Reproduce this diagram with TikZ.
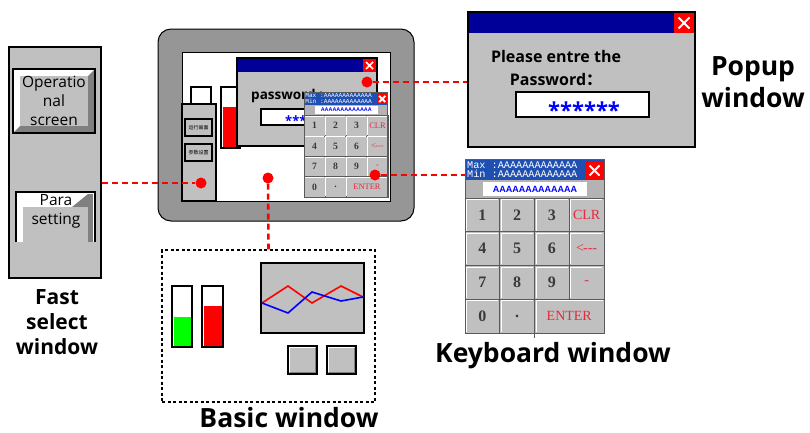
\documentclass[tikz,border=0pt]{standalone}
\usepackage{fontspec}
\setmainfont{Open Sans}
\newfontfamily\cjk{Noto Sans CJK SC}
\newfontfamily\keyfont{Liberation Serif}
\newfontfamily\tinyfont{Liberation Sans}
\newfontfamily\monofont{Liberation Mono}
\usetikzlibrary{positioning}

\definecolor{panelgray}{HTML}{C0C0C0}
\definecolor{bezelgray}{HTML}{969696}
\definecolor{bevdark}{HTML}{808080}
\definecolor{titlenavy}{HTML}{000099}
\definecolor{kbdblue}{HTML}{1F4FB0}
\definecolor{keydark}{HTML}{3A3A3A}
\definecolor{keyred}{HTML}{E8283C}

% raised button: x1 y1 x2 y2 depth
\newcommand{\bevelbtn}[5]{%
  \fill[white] (#1,#2) rectangle (#3,#4);
  \fill[bevdark] (#3,#2) -- (#3,#4) -- (#1,#4) -- ({#1+#5},{#4-#5})
    -- ({#3-#5},{#4-#5}) -- ({#3-#5},{#2+#5}) -- cycle;
  \fill[panelgray] ({#1+#5},{#2+#5}) rectangle ({#3-#5},{#4-#5});
  \draw[line width=1.2pt] (#1,#2) rectangle (#3,#4);}

\begin{document}
\begin{tikzpicture}[x=1pt, y=-1pt,
  panel/.style={draw=black, line width=1.2pt, fill=panelgray, inner sep=0pt},
  link/.style={draw=red, line width=2.6pt, dash pattern=on 6pt off 4pt},
  hotspot/.style={circle, fill=red, inner sep=0pt, minimum size=11pt},
  caption/.style={font=\bfseries\fontsize{26.5}{32}\selectfont, align=center},
  keycap/.style={font=\keyfont\bfseries\fontsize{16}{16}\selectfont, text=keydark},
  keyalert/.style={keycap, font=\keyfont\fontsize{14}{14}\selectfont, text=keyred},
  keypad/.pic={
    \fill[panelgray] (0,0) rectangle (139,174);
    % title bar
    \fill[kbdblue] (0,0) rectangle (139,21);
    \node[anchor=west, inner sep=0pt, text=white, font=\monofont\fontsize{10.2}{10.2}\selectfont]
      (-max) at (2,6) {Max :AAAAAAAAAAAAA};
    \node[anchor=west, inner sep=0pt, text=white, font=\monofont\fontsize{10.2}{10.2}\selectfont]
      (-min) at (2,15) {Min :AAAAAAAAAAAAA};
    \fill[red] (121,3) rectangle (138,20);
    \draw[white, line width=2pt] (124.5,6.5) -- (134.5,16.5) (134.5,6.5) -- (124.5,16.5);
    % input row
    \fill[bevdark!60] (0,21) rectangle (139,39);
    \fill[white] (18,23) rectangle (122,37);
    \node[text=blue, font=\tinyfont\bfseries\fontsize{9}{9}\selectfont]
      (-input) at (70,30) {AAAAAAAAAAAAA};
    % keys
    \foreach \c/\r/\t/\s in {0/0/1/keycap, 1/0/2/keycap, 2/0/3/keycap, 3/0/CLR/keyalert,
                             0/1/4/keycap, 1/1/5/keycap, 2/1/6/keycap, 3/1/{<\kern-1pt---}/keyalert,
                             0/2/7/keycap, 1/2/8/keycap, 2/2/9/keycap, 3/2/-/keyalert,
                             0/3/0/keycap, 1/3/./keycap} {
      \pgfmathsetmacro\kx{\c*34.75}
      \pgfmathsetmacro\ky{39+\r*33.75}
      \draw[fill=panelgray, draw=bevdark!70!black, line width=0.8pt] (\kx,\ky) rectangle ++(34.75,33.75);
      \draw[white, line width=1pt] ({\kx+1.5},{\ky+32.5}) -- ({\kx+1.5},{\ky+1.5}) -- ({\kx+33},{\ky+1.5});
      \node[\s] (-key\c\r) at ({\kx+17.4},{\ky+16.9}) {\t};
    }
    \draw[fill=panelgray, draw=bevdark!70!black, line width=0.8pt] (69.5,140.25) rectangle (139,174);
    \draw[white, line width=1pt] (71,172.5) -- (71,141.75) -- (137.5,141.75);
    \node[keyalert] (-enter) at (104.25,157.1) {ENTER};
    \draw[bevdark!70!black, line width=1pt] (0,0) rectangle (139,174);
  }
]
\useasboundingbox (0,0) rectangle (810,432);

% Fast select window
\node[panel, minimum width=92pt, minimum height=231pt] (fastsel) at (55,162.5) {};
\bevelbtn{13}{69}{95}{133}{7}
\node[align=center, font=\fontsize{15.5}{19}\selectfont] (opbtn) at (54,101) {Operatio\\nal\\screen};
\fill[white] (16,192) rectangle (95,242);
\fill[bevdark] (88,194) rectangle (93,242);
\fill[bevdark] (72,207) -- (88,194) -- (88,207) -- cycle;
\fill[panelgray] (23,207) rectangle (88,242);
\draw[line width=1.2pt] (16,242) -- (16,192) -- (95,192) -- (95,242);
\node[align=center, font=\fontsize{15.5}{19}\selectfont] (parabtn) at (56,211) {Para\\setting};
\node[caption, font=\bfseries\fontsize{21}{25}\selectfont] (fastlbl) at (57,322) {Fast\\select\\window};

% HMI device
\node[draw=black, line width=1pt, fill=bezelgray, rounded corners=13pt,
      minimum width=256pt, minimum height=192pt] (hmi) at (286,125) {};
\node[draw=black, line width=1pt, fill=white, minimum width=208pt, minimum height=149pt] (screen) at (286,126.5) {};
\draw[line width=1.5pt, fill=white] (191,87) rectangle (211,104);
\draw[line width=1.5pt, fill=panelgray] (182,104) rectangle (216,201);
\draw[line width=1.5pt, fill=panelgray] (185,119) rectangle (212,136);
\draw[line width=1.5pt, fill=panelgray] (185,144) rectangle (212,161);
\node[font=\cjk\fontsize{5}{5}\selectfont, inner sep=0pt] (runbtn) at (198.5,127.5) {运行画面};
\node[font=\cjk\fontsize{5}{5}\selectfont, inner sep=0pt] (setbtn) at (198.5,152.5) {参数设置};
\draw[line width=1.5pt, fill=white] (221,87) rectangle (240,148);
\fill[red] (222.5,107) rectangle (238.5,146.5);
% password popup on screen
\draw[line width=1.5pt, fill=panelgray] (237,58) rectangle (377,146);
\fill[titlenavy] (238,59) rectangle (376,72);
\fill[red] (363,59) rectangle (376,72);
\draw[white, line width=1.5pt] (366,62) -- (373,69) (373,62) -- (366,69);
\node[anchor=base west, inner sep=0pt, font=\bfseries\fontsize{13.5}{13.5}\selectfont] (pwtext) at (251,99) {password :};
\draw[line width=1.5pt, fill=white] (261,109) rectangle (345,125);
\node[anchor=base west, inner sep=0pt, text=blue, font=\bfseries\fontsize{13}{13}\selectfont] (pwstars) at (285,125) {***};
\pic[scale=0.604, transform shape] (minikbd) at (304,92) {keypad};

% Popup window
\node[panel, minimum width=227pt, minimum height=135pt] (popup) at (581.5,79.5) {};
\fill[titlenavy] (469,13) rectangle (694,33);
\fill[red] (674,13) rectangle (694,33);
\draw[white, line width=2pt] (678.5,17.5) -- (689.5,28.5) (689.5,17.5) -- (678.5,28.5);
\node[align=center, font=\bfseries\fontsize{16}{23}\selectfont] (prompt) at (556,68) {Please entre the\\Password{\cjk ：}};
\node[draw=black, line width=1.5pt, fill=white, minimum width=133pt, minimum height=25pt] (pwbox) at (582.5,104.5) {};
\node[anchor=base, inner sep=0pt, text=blue, font=\bfseries\fontsize{22}{22}\selectfont] (stars) at (584,118) {******};
\node[caption] (popuplbl) at (753,82) {Popup\\window};

% Keyboard window
\pic (bigkbd) at (465,159) {keypad};
\node[minimum width=139pt, minimum height=174pt, inner sep=0pt] (kbdwin) at (534.5,246) {};
\node[caption, anchor=base] (kbdlbl) at (553,362) {Keyboard window};
\draw[bevdark!70!black, line width=0.8pt] (kbdwin.south) -- (kbdwin.south |- kbdlbl.north);

% Basic window
\node[draw=black, line width=1.5pt, dash pattern=on 3pt off 2.5pt,
      minimum width=213pt, minimum height=152pt] (basic) at (268.5,326) {};
\draw[line width=1.5pt, fill=white] (172,286) rectangle (192,347);
\fill[green] (173.5,317) rectangle (190.5,345.5);
\draw[line width=1.5pt, fill=white] (202,286) rectangle (223,347);
\fill[red] (203.5,306) rectangle (221.5,345.5);
\node[panel, minimum width=103pt, minimum height=70pt] (chart) at (312.5,298) {};
\draw[red, line width=1.6pt] (262,303) -- (288,286) -- (312,303) -- (341,286) -- (363,297);
\draw[blue, line width=1.6pt] (262,303) -- (288,313) -- (312,292) -- (341,301) -- (363,297);
\bevelbtn{288}{346}{317}{374}{2}
\bevelbtn{327}{346}{356}{374}{2}
\node[caption, anchor=base, inner sep=0pt] (basiclbl) at (289,427) {Basic window};

% Hot spots and links
\node[hotspot] (dotfast) at (201,183) {};
\node[hotspot] (dotbasic) at (268,178) {};
\node[hotspot] (dotpopup) at (367,82) {};
\node[hotspot] (dotkbd) at (375,175) {};
\draw[link] (fastsel.east |- dotfast) -- (dotfast);
\draw[link] (dotbasic) -- (basic.north);
\draw[link] (dotpopup) -- (dotpopup -| popup.west);
\draw[link] (dotkbd) -- (dotkbd -| kbdwin.west);
\end{tikzpicture}
\end{document}
